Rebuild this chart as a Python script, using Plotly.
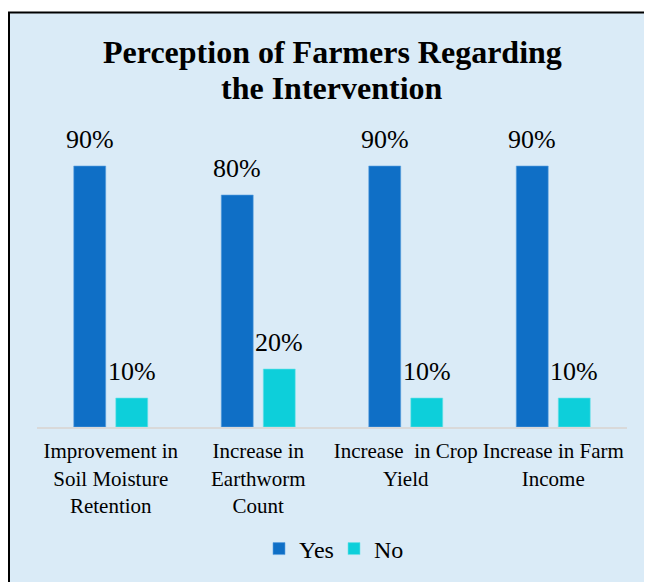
import plotly.graph_objects as go

categories = [
    "Improvement in<br>Soil Moisture<br>Retention",
    "Increase in<br>Earthworm<br>Count",
    "Increase\u00a0\u00a0in Crop<br>Yield",
    "Increase in Farm<br>Income",
]
yes_values = [90, 80, 90, 90]
no_values = [10, 20, 10, 10]
title_lines = ["Perception of Farmers Regarding", "the Intervention"]

# page body has an 8px margin, so the figure is drawn 8px in from the top-left
OFF = 8
W, H = 652 - OFF, 582 - OFF
L, R, T, B = 29, 25, 129, 154
pw = W - L - R
ph = H - T - B

serif = "Liberation Serif, Times New Roman, serif"
yes_color = "#0F6FC6"
no_color = "#0DCFDA"


def px_x(sx):
    # screen pixel -> paper x
    return (sx - OFF - L) / pw


def px_y(sy):
    # screen pixel -> paper y
    return (H - B - (sy - OFF)) / ph


fig = go.Figure()
fig.add_trace(go.Bar(
    x=categories, y=yes_values, name="Yes",
    marker=dict(color=yes_color, line=dict(color="#5EA3E0", width=0.6)),
))
fig.add_trace(go.Bar(
    x=categories, y=no_values, name="No",
    marker=dict(color=no_color, line=dict(color="#6FE3EA", width=0.6)),
))

# value labels above each bar (bar slots are ~42px apart, so +/-21px)
for vals, shift in [(yes_values, -21), (no_values, 21)]:
    for cat, v in zip(categories, vals):
        fig.add_annotation(
            x=cat, y=v, xref="x", yref="y", text=f"{v}%",
            xshift=shift, yshift=10, xanchor="center", yanchor="bottom",
            showarrow=False, font=dict(family=serif, size=26, color="#000000"),
        )

# chart frame: light fill, black line on top/left (right/bottom run off the image)
fig.add_shape(
    type="rect", xref="paper", yref="paper", layer="below",
    x0=px_x(9), x1=px_x(670), y0=px_y(600), y1=px_y(12),
    fillcolor="#DAEBF7", line=dict(color="#000000", width=2),
)

for txt, sy in zip(title_lines, [52, 88]):
    fig.add_annotation(
        text=f"<b>{txt}</b>", xref="paper", yref="paper",
        x=px_x(332), y=px_y(sy), xanchor="center", yanchor="middle",
        showarrow=False, font=dict(family=serif, size=32, color="#000000"),
    )

fig.update_layout(
    width=W, height=H,
    margin=dict(l=L, r=R, t=T, b=B),
    paper_bgcolor="#FFFFFF",
    plot_bgcolor="rgba(0,0,0,0)",
    barmode="group",
    bargap=0.43,
    bargroupgap=0.24,
    font=dict(family=serif, color="#000000"),
    showlegend=True,
    legend=dict(
        orientation="h", x=px_x(334), xanchor="center",
        y=px_y(549), yanchor="middle",
        font=dict(family=serif, size=24, color="#000000"),
        bgcolor="rgba(0,0,0,0)", itemwidth=30, entrywidth=30,
    ),
)
fig.update_xaxes(
    showline=True, linecolor="#D9D9D9", linewidth=2,
    tickfont=dict(family=serif, size=21, color="#000000"),
    ticks="", showgrid=False, ticklabelstandoff=4,
)
fig.update_yaxes(range=[0, 100], visible=False, showgrid=False)

fig.write_html("out.html")
